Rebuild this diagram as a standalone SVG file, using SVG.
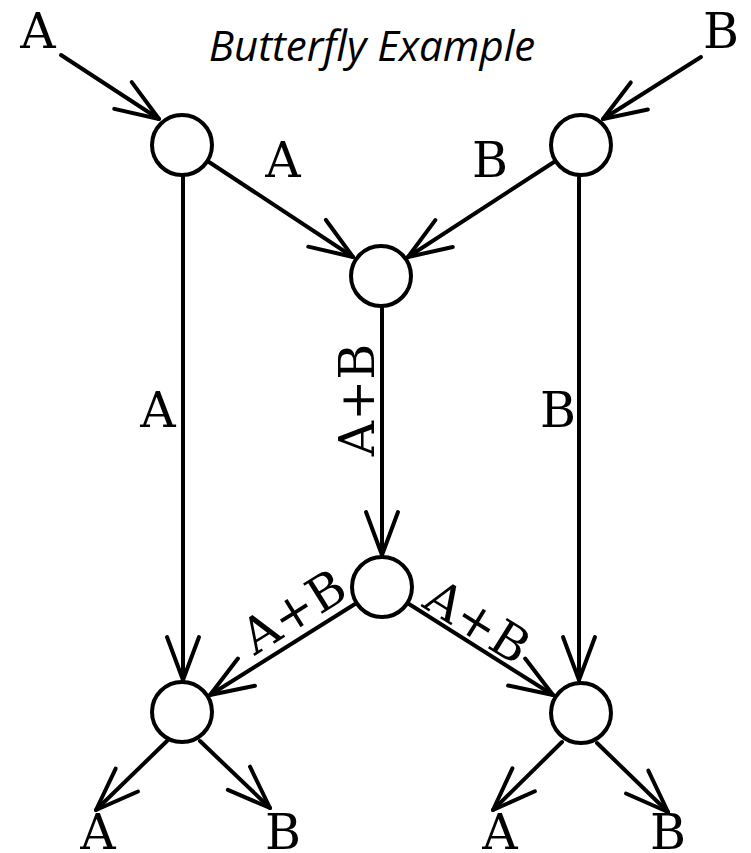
<svg xmlns="http://www.w3.org/2000/svg" width="751" height="853" viewBox="0 0 751 853">
<style>
.node{fill:#fff;stroke:#000;stroke-width:4}
.edge{fill:none;stroke:#000;stroke-width:4;stroke-linecap:round}
.lbl{font-family:"DejaVu Serif",serif;font-size:49px;fill:#000;text-anchor:middle}
.title{font-family:"Open Sans",sans-serif;font-style:italic;font-size:42px;fill:#000;text-anchor:middle}
</style>
<defs>
<marker id="arr" markerUnits="userSpaceOnUse" viewBox="-50 -22 56 44" refX="0" refY="0" markerWidth="56" markerHeight="44" orient="auto">
<path d="M-43,-16 L0,0 L-43,16" fill="none" stroke="#000" stroke-width="4" stroke-linecap="round" stroke-linejoin="round"/>
</marker>
</defs>
<rect width="751" height="853" fill="#fff"/>
<text class="title" x="372" y="61">Butterfly Example</text>
<g id="connectors">
<line class="edge" x1="61" y1="55" x2="159" y2="119" marker-end="url(#arr)"/>
<line class="edge" x1="701" y1="57" x2="603" y2="119" marker-end="url(#arr)"/>
<line class="edge" x1="209" y1="162" x2="353" y2="257" marker-end="url(#arr)"/>
<line class="edge" x1="554" y1="162" x2="408" y2="257" marker-end="url(#arr)"/>
<line class="edge" x1="183" y1="177" x2="183" y2="680" marker-end="url(#arr)"/>
<line class="edge" x1="579" y1="177" x2="579" y2="680" marker-end="url(#arr)"/>
<line class="edge" x1="382" y1="307" x2="382" y2="555" marker-end="url(#arr)"/>
<line class="edge" x1="355" y1="604" x2="210" y2="695" marker-end="url(#arr)"/>
<line class="edge" x1="409" y1="604" x2="553" y2="695" marker-end="url(#arr)"/>
<line class="edge" x1="167" y1="741" x2="96" y2="810" marker-end="url(#arr)"/>
<line class="edge" x1="200" y1="741" x2="270" y2="808" marker-end="url(#arr)"/>
<line class="edge" x1="562" y1="742" x2="493" y2="810" marker-end="url(#arr)"/>
<line class="edge" x1="597" y1="743" x2="668" y2="812" marker-end="url(#arr)"/>
<text class="lbl" x="283" y="177">A</text>
<text class="lbl" x="490" y="177">B</text>
<text class="lbl" x="158" y="427">A</text>
<text class="lbl" x="558" y="427">B</text>
<text class="lbl" transform="translate(374,400) rotate(-90)">A+B</text>
<text class="lbl" transform="translate(302.5,626) rotate(-32)">A+B</text>
<text class="lbl" transform="translate(468.5,636) rotate(32)">A+B</text>
</g>
<g id="in-A"><text class="lbl" x="38" y="48">A</text></g>
<g id="in-B"><text class="lbl" x="721" y="48">B</text></g>
<g id="n-tl"><circle class="node" cx="182" cy="145" r="30"/></g>
<g id="n-tr"><circle class="node" cx="581" cy="145" r="30"/></g>
<g id="n-m"><circle class="node" cx="381" cy="276" r="30"/></g>
<g id="n-lm"><circle class="node" cx="382" cy="587" r="30"/></g>
<g id="n-bl"><circle class="node" cx="182" cy="712" r="30"/></g>
<g id="n-br"><circle class="node" cx="581" cy="713" r="30"/></g>
<g id="out-1"><text class="lbl" x="98" y="849">A</text></g>
<g id="out-2"><text class="lbl" x="283" y="849">B</text></g>
<g id="out-3"><text class="lbl" x="500" y="849">A</text></g>
<g id="out-4"><text class="lbl" x="668" y="849">B</text></g>
</svg>
